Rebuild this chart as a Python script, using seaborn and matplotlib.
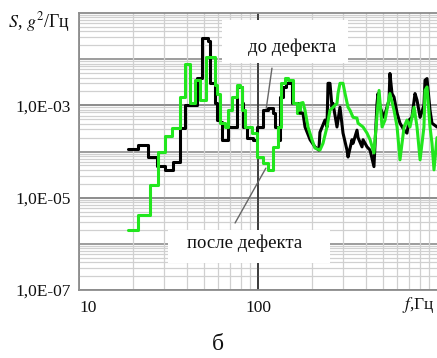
import numpy as np
import pandas as pd
import matplotlib
matplotlib.use("Agg")
import matplotlib.pyplot as plt
from matplotlib.patches import Rectangle
import seaborn as sns

# ---- data ----
f_before = [18.8, 21.4, 24.3, 27.3, 30.2, 33.5, 36.6, 39.1, 45.6, 48.6, 52.6, 53.6, 57.5, 59.0,
            61.4, 62.9, 67.9, 76.3, 81.4, 82.4, 86.8, 93.8, 98.7, 106.6, 113.8, 121.3, 124.5,
            129.4, 132.7, 137.9, 143.3, 155.0, 167.2,
            171.7, 178.3, 183.1, 195.4, 208.0, 218.8, 221.8, 236.6, 242.9, 246.1, 252.4, 259.1,
            262.4, 276.2, 287.1, 298.5, 314.2, 318.4, 335.0, 339.6, 357.3, 362.2, 381.1, 386.2,
            406.5, 422.7, 444.4, 462.2, 468.3, 480.9, 506.2, 539.5, 545.8, 560.5, 575.4, 598.4,
            621.2, 654.6, 679.6, 698.2, 724.4, 753.5, 773.2, 804.4, 845.3, 857.2, 879.4, 914.2,
            937.6, 1000.0]
s_before = [1.12e-4, 1.4e-4, 7.6e-5, 4.9e-5, 4.0e-5, 5.9e-5, 3.2e-4, 1.0e-3, 4.0e-3, 2.9e-2, 2.5e-2,
            3.1e-3, 1.15e-3, 4.8e-4,
            4.3e-4, 1.8e-4, 3.4e-4, 2.5e-3, 1.1e-3, 3.4e-4, 2.0e-4, 1.8e-4, 3.4e-4, 7.8e-4, 8.7e-4,
            6.8e-4, 3.4e-4, 1.8e-4, 1.5e-3, 2.5e-3, 3.0e-3, 1.1e-3, 6.8e-4,
            6.8e-4, 6.8e-4, 3.4e-4, 1.8e-4, 1.26e-4, 1.07e-4, 2.6e-4, 4.8e-4, 3.4e-4, 3.0e-3, 3.0e-3,
            9.1e-4, 1.1e-3, 3.4e-4, 9.1e-4, 2.5e-4, 1.07e-4, 7.6e-5, 1.8e-4, 1.5e-4, 2.9e-4, 2.0e-4,
            1.26e-4, 1.8e-4, 1.26e-4, 1.07e-4, 4.7e-5, 1.1e-3, 1.8e-3, 9.1e-4, 5.5e-4, 1.3e-3,
            4.9e-3, 1.8e-3, 1.5e-3, 6.8e-4, 4.1e-4, 2.9e-4, 2.5e-4, 4.8e-4, 5.5e-4, 1.8e-3, 1.3e-3,
            5.5e-4, 1.0e-3, 3.5e-3, 3.8e-3, 7.8e-4, 4.1e-4, 3.4e-4]

f_after = [18.8, 21.4, 24.9, 27.6, 30.2, 33.1, 36.6, 39.1, 41.8, 44.5, 47.5, 51.2, 57.5, 59.0,
           61.4, 65.4, 67.9, 71.6, 76.3, 79.3, 81.4, 84.6, 92.5, 98.7, 106.6, 113.8, 121.3, 129.4,
           134.3, 141.6, 147.1, 156.9, 165.3,
           171.7, 178.3, 183.1, 190.2, 200.3, 208.0, 221.8, 230.7, 242.9, 252.4, 262.4, 276.2,
           279.8, 287.1, 298.5, 306.4, 318.4, 326.6, 339.6, 357.3, 362.2, 386.2, 406.5, 422.7,
           444.4, 474.6, 493.4, 512.5, 545.8, 575.4, 598.4, 621.2, 654.6, 679.6, 706.3, 744.7,
           773.2, 804.4, 845.3, 857.2, 879.4, 914.2, 937.6, 962.0, 1000.0]
s_after = [2.0e-6, 4.3e-6, 1.9e-5, 9.8e-5, 2.2e-4, 3.2e-4, 1.5e-3, 7.9e-3, 1.15e-3, 3.5e-3, 1.3e-3,
           1.1e-2, 2.7e-3, 1.8e-3,
           4.1e-4, 3.4e-4, 7.8e-4, 1.5e-3, 2.7e-3, 2.5e-3, 7.8e-4, 3.4e-4, 2.5e-4, 7.6e-5, 5.6e-5,
           4.0e-5, 1.26e-4, 3.4e-4, 3.0e-3, 4.0e-3, 3.5e-3, 1.1e-3, 6.8e-4,
           1.1e-3, 1.15e-3, 7.8e-4, 3.4e-4, 1.8e-4, 1.19e-4, 1.07e-4, 1.5e-4, 3.4e-4, 7.8e-4,
           9.1e-4, 1.1e-3, 1.8e-3, 3.0e-3, 3.0e-3, 1.8e-3, 9.1e-4, 7.8e-4, 5.5e-4, 5.3e-4, 4.1e-4,
           3.4e-4, 2.5e-4, 1.8e-4, 9.3e-5, 2.1e-3, 3.4e-4, 4.8e-4, 1.8e-3, 7.8e-4, 3.4e-4, 6.6e-5,
           3.4e-4, 4.8e-4, 3.4e-4, 9.1e-4, 3.4e-4, 6.6e-5, 3.4e-4, 2.1e-3, 2.5e-3, 3.4e-4, 1.5e-4,
           4.0e-5, 2.0e-4]

series_names = ["до дефекта", "после дефекта"]
series_colors = ["#000000", "#22e61e"]
y_tick_values = [1e-7, 1e-5, 1e-3]
y_tick_labels = ["1,0E-07", "1,0E-05", "1,0E-03"]
x_tick_values = [10, 100]
x_tick_labels = ["10", "100"]
step_limit_hz = 171.7   # below: stepped spectrum, above: plain polyline

df = pd.concat([
    pd.DataFrame({"f": f_before, "S": s_before, "series": series_names[0]}),
    pd.DataFrame({"f": f_after, "S": s_after, "series": series_names[1]}),
], ignore_index=True)
df_low = df[df["f"] <= step_limit_hz]
df_high = df[df["f"] >= step_limit_hz]

sns.set_theme(style="white")
plt.rcParams["font.family"] = ["Liberation Serif", "DejaVu Serif"]
plt.rcParams["mathtext.fontset"] = "stix"

W, H = 437, 358
fig = plt.figure(figsize=(W / 100, H / 100), dpi=100)
ax = fig.add_axes([79 / W, 1 - 290 / H, (437 - 79) / W, 277 / H])

sns.lineplot(data=df_low, x="f", y="S", hue="series", hue_order=series_names,
             palette=series_colors, estimator=None, sort=False,
             drawstyle="steps-post", linewidth=2.2, legend=False, ax=ax, zorder=5)
sns.lineplot(data=df_high, x="f", y="S", hue="series", hue_order=series_names,
             palette=series_colors, estimator=None, sort=False,
             linewidth=2.2, legend=False, ax=ax, zorder=5)

ax.set_xscale("log")
ax.set_yscale("log")
ax.set_xlim(10, 1000)
ax.set_ylim(1e-7, 1e-1)

ax.yaxis.set_minor_locator(matplotlib.ticker.LogLocator(base=10, subs=np.arange(2, 10), numticks=50))
ax.xaxis.set_minor_locator(matplotlib.ticker.LogLocator(base=10, subs=np.arange(2, 10), numticks=50))
ax.grid(which="major", color="#8c8c8c", linewidth=1.2, zorder=0)
ax.grid(which="minor", color="#d0d0d0", linewidth=0.9, zorder=0)
ax.axvline(100, color="#222222", linewidth=1.1, zorder=1)

ax.set_yticks(y_tick_values, minor=False)
ax.set_yticklabels(y_tick_labels)
ax.set_xticks(x_tick_values, minor=False)
ax.set_xticklabels(x_tick_labels)
for k in range(-6, -1):
    ax.axhline(10.0 ** k, color="#8c8c8c", linewidth=1.2, zorder=0.5)
ax.tick_params(axis="both", which="both", length=0, labelsize=12.5, colors="#111111")
ax.tick_params(axis="x", pad=7)
ax.tick_params(axis="y", pad=6)
ax.get_xticklabels()[0].set_ha("left")
ax.set_xlabel("")
ax.set_ylabel("")

for side in ["left", "top", "bottom"]:
    ax.spines[side].set_color("#8c8c8c")
    ax.spines[side].set_linewidth(1.3)
ax.spines["right"].set_visible(False)

# annotation boxes
ax.add_patch(Rectangle((0.399, 0.819), 0.352, 0.156, transform=ax.transAxes,
                       facecolor="white", edgecolor="none", zorder=3))
ax.add_patch(Rectangle((0.249, 0.097), 0.452, 0.120, transform=ax.transAxes,
                       facecolor="white", edgecolor="none", zorder=3))
ax.text(0.595, 0.877, "до дефекта", transform=ax.transAxes, ha="center", va="center",
        fontsize=13.5, color="#111111", zorder=6)
ax.text(0.464, 0.170, "после дефекта", transform=ax.transAxes, ha="center", va="center",
        fontsize=13.5, color="#111111", zorder=6)
ax.plot([0.539, 0.523], [0.801, 0.655], transform=ax.transAxes, color="#666666",
        linewidth=1.0, zorder=6)
ax.plot([0.436, 0.522], [0.242, 0.440], transform=ax.transAxes, color="#666666",
        linewidth=1.0, zorder=6)

fig.text(8 / W, 1 - 22 / H, "$S$, $g^2$/Гц", ha="left", va="center", fontsize=13, color="#111111")
fig.text(418 / W, 1 - 305 / H, "$f$,Гц", ha="center", va="center", fontsize=12.5, color="#111111")
fig.text(218 / W, 1 - 345 / H, "б", ha="center", va="center", fontsize=17, color="#111111")

fig.savefig("out.png", dpi=100, facecolor="white")
